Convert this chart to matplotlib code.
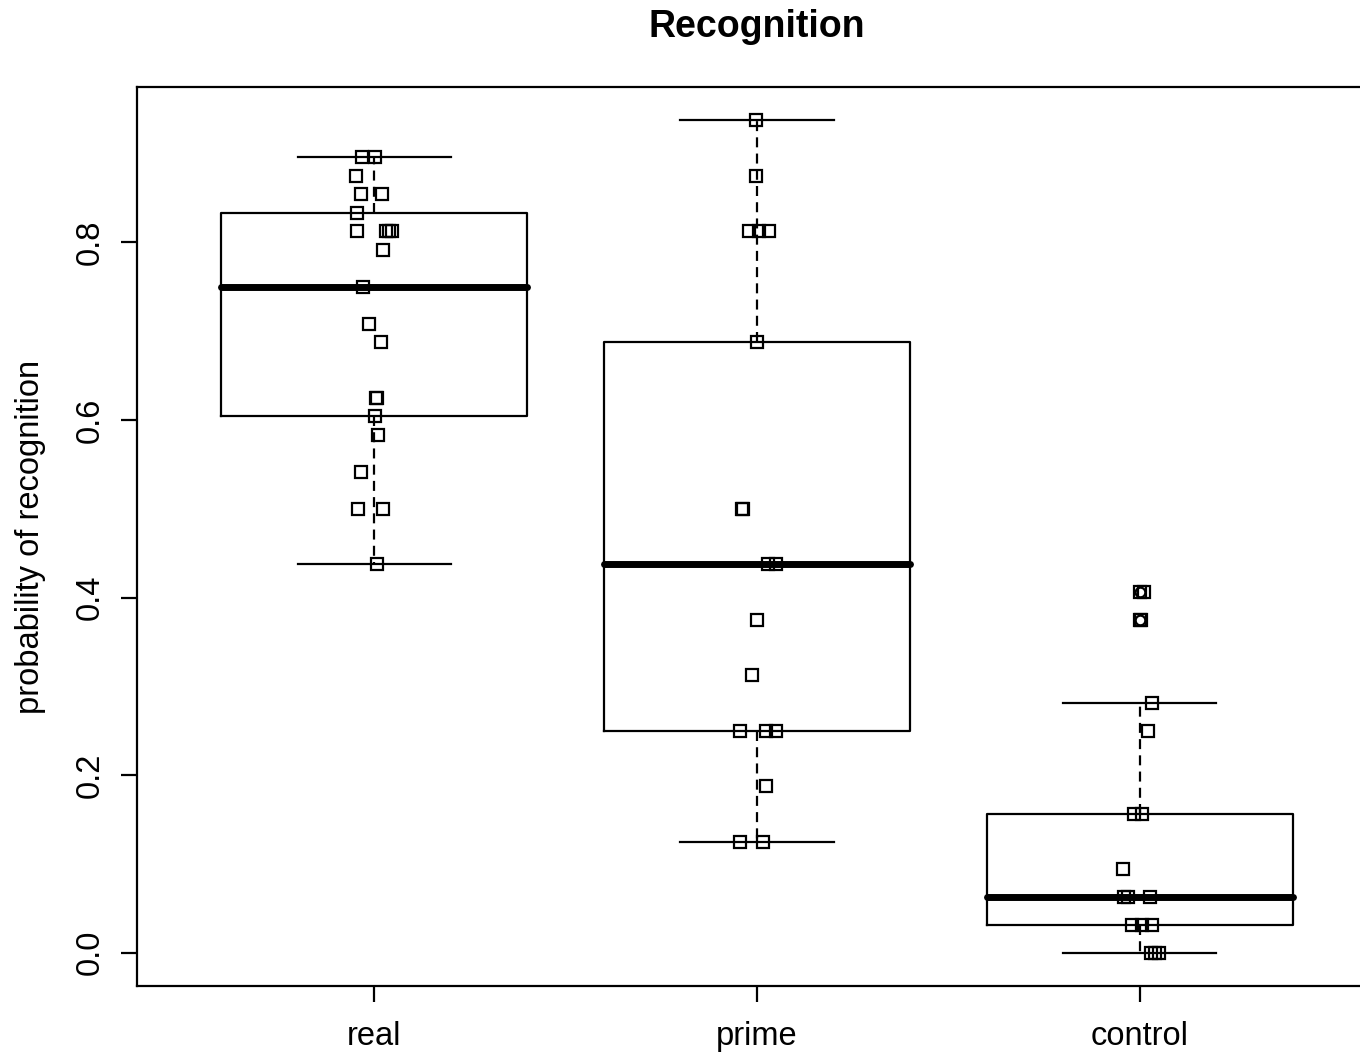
import numpy as np
import matplotlib.pyplot as plt

plt.rcParams['font.family'] = ['Liberation Sans', 'DejaVu Sans']

groups = ["real", "prime", "control"]

# box statistics
whis_lo = [0.4375, 0.125, 0.0]
q1 = [0.6042, 0.25, 0.03125]
med = [0.75, 0.4375, 0.0625]
q3 = [0.8333, 0.6875, 0.15625]
whis_hi = [0.8958, 0.9375, 0.28125]
outliers = [[], [], [0.375, 0.40625]]

# jittered points: value and horizontal offset from the group centre
real_y = [0.8958, 0.8958, 0.875, 0.8542, 0.8542, 0.8333, 0.8125, 0.8125, 0.8125, 0.8125,
          0.7917, 0.75, 0.7083, 0.6875, 0.625, 0.625, 0.6042, 0.5833, 0.5417, 0.5, 0.5, 0.4375]
real_dx = [-0.031, 0.003, -0.047, -0.034, 0.021, -0.044, -0.044, 0.031, 0.039, 0.047,
           0.024, -0.029, -0.013, 0.018, 0.005, 0.007, 0.003, 0.010, -0.034, -0.042, 0.024, 0.008]
prime_y = [0.9375, 0.875, 0.8125, 0.8125, 0.8125, 0.6875, 0.5, 0.5, 0.4375, 0.4375,
           0.375, 0.3125, 0.25, 0.25, 0.25, 0.1875, 0.125, 0.125]
prime_dx = [-0.003, -0.003, -0.021, 0.005, 0.031, 0.0, -0.039, -0.037, 0.029, 0.050,
            0.0, -0.013, -0.044, 0.024, 0.050, 0.024, -0.044, 0.016]
control_y = [0.40625, 0.40625, 0.375, 0.375, 0.28125, 0.25, 0.15625, 0.15625, 0.09375,
             0.0625, 0.0625, 0.0625, 0.03125, 0.03125, 0.03125, 0.0, 0.0, 0.0]
control_dx = [0.0, 0.010, 0.0, 0.003, 0.031, 0.021, -0.016, 0.005, -0.044,
              -0.042, -0.031, 0.026, -0.021, 0.005, 0.031, 0.029, 0.039, 0.050]

fig = plt.figure(figsize=(13.6, 10.52), dpi=100)
ax = fig.add_axes([137 / 1360, 1 - 986 / 1052, 1240 / 1360, 899 / 1052])

stats = []
for i in range(3):
    stats.append(dict(whislo=whis_lo[i], q1=q1[i], med=med[i], q3=q3[i],
                      whishi=whis_hi[i], fliers=outliers[i]))

lw = 1.6
ax.bxp(stats, positions=[1, 2, 3], widths=0.8, capwidths=0.4,
       boxprops=dict(color='black', linewidth=lw),
       medianprops=dict(color='black', linewidth=5, solid_capstyle='round'),
       whiskerprops=dict(color='black', linewidth=lw, linestyle=(0, (4.5, 2.8))),
       capprops=dict(color='black', linewidth=lw),
       flierprops=dict(marker='o', markersize=7, markerfacecolor='none',
                       markeredgecolor='black', markeredgewidth=lw))

pts = [(real_y, real_dx), (prime_y, prime_dx), (control_y, control_dx)]
for i, (yy, dx) in enumerate(pts):
    xx = np.array(dx) + i + 1
    ax.plot(xx, yy, 's', markersize=9.3, markerfacecolor='none',
            markeredgecolor='black', markeredgewidth=lw, zorder=5)

ax.set_xlim(0.38, 3.62)
ax.set_ylim(-0.0375, 0.975)
ax.set_xticks([1, 2, 3])
ax.set_xticklabels(groups)
ax.set_yticks([0.0, 0.2, 0.4, 0.6, 0.8])
ax.set_yticklabels(["0.0", "0.2", "0.4", "0.6", "0.8"], rotation=90, va='center')
ax.tick_params(axis='both', length=11.5, width=lw, labelsize=23.5)
ax.tick_params(axis='x', pad=14)
ax.tick_params(axis='y', pad=11)
for s in ax.spines.values():
    s.set_linewidth(lw)

fig.text(31 / 1360, 1 - 537 / 1052, "probability of recognition", rotation=90,
         ha='center', va='center', fontsize=23.5)
fig.text(757 / 1360, 1 - 27 / 1052, "Recognition", ha='center', va='center',
         fontsize=27, fontweight='bold')

fig.savefig("out.png", dpi=100)
